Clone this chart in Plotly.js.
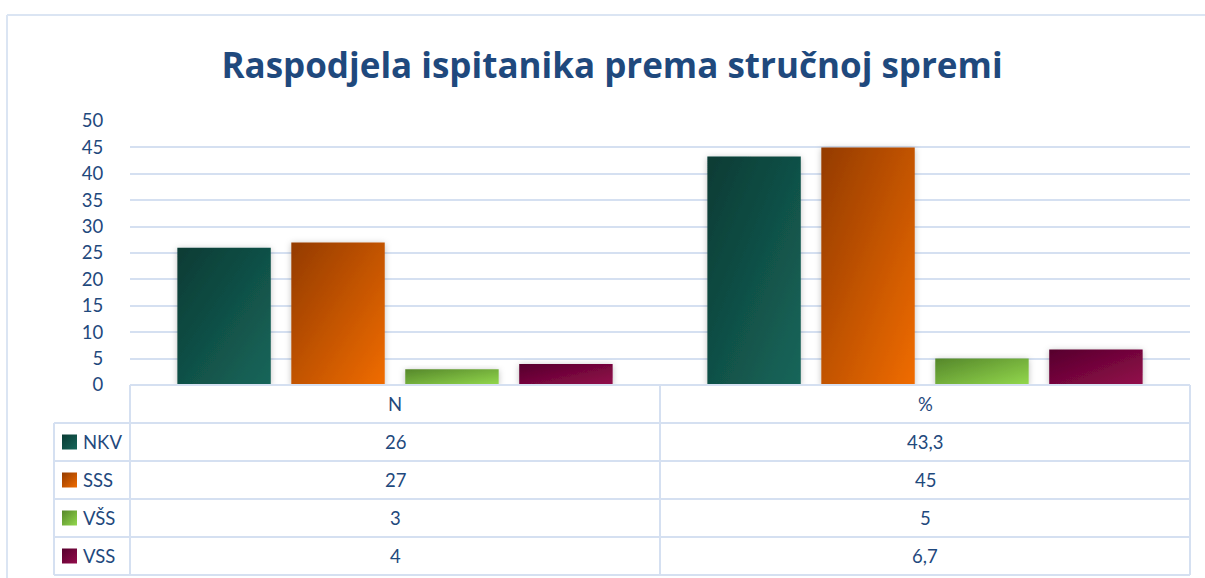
<!DOCTYPE html>
<html><head><meta charset="utf-8">
<script src="https://cdn.plot.ly/plotly-3.0.1.min.js"></script>
<style>html,body{margin:0;padding:0;background:#fff;overflow:hidden}#chart{width:1205px;height:578px}</style>
</head><body><div id="chart"></div>
<script>
const categories = ['N', '%'];
const seriesNames = ['NKV', 'SSS', 'VŠS', 'VSS'];
const valuesNKV = [26, 43.3];
const valuesSSS = [27, 45];
const valuesVSSh = [3, 5];
const valuesVSS = [4, 6.7];
const seriesValues = [valuesNKV, valuesSSS, valuesVSSh, valuesVSS];
const chartTitle = 'Raspodjela ispitanika prema stručnoj spremi';

const gradStart = ['#0a3b34', '#943b00', '#55872a', '#56002d'];
const gradEnd = ['#17665a', '#f06c00', '#93d84d', '#930c4b'];
const midColors = ['#115247', '#c85400', '#74b03b', '#750640'];
const textColor = '#1F497D';
const lineColor = '#d5e0f1';
const FONT = 'Lato, "Open Sans", sans-serif';
const TITLE_FONT = '"Open Sans", Lato, sans-serif';

const W = 1205, H = 578, L = 130, R = 1190, T = 121, B = 385;
const px = v => (v - L) / (R - L);
const py = v => (B - v) / (B - T);

const rowEdges = [385, 423, 461, 499, 537, 575];
const rowCenter = i => (rowEdges[i] + rowEdges[i + 1]) / 2;

const traces = seriesNames.map((name, i) => ({
  type: 'bar', name: name, x: categories, y: seriesValues[i],
  marker: {color: midColors[i], line: {width: 0}},
  hoverinfo: 'none'
}));

const shapes = [];
const annotations = [];
const lineStyle = {color: lineColor, width: 2};
shapes.push({type: 'line', xref: 'paper', yref: 'paper', x0: px(7), x1: px(7), y0: py(H + 5), y1: py(15), line: {color: '#dbe5f3', width: 2}});
shapes.push({type: 'line', xref: 'paper', yref: 'paper', x0: px(7), x1: px(W + 5), y0: py(15), y1: py(15), line: {color: '#dbe5f3', width: 2}});
rowEdges.forEach((e, k) => {
  shapes.push({type: 'line', xref: 'paper', yref: 'paper', x0: px(k === 0 ? L : 54), x1: px(R), y0: py(e), y1: py(e), line: lineStyle});
});
[L, (L + R) / 2, R].forEach(v => {
  shapes.push({type: 'line', xref: 'paper', yref: 'paper', x0: px(v), x1: px(v), y0: py(rowEdges[0]), y1: py(rowEdges[5]), line: lineStyle});
});
shapes.push({type: 'line', xref: 'paper', yref: 'paper', x0: px(54), x1: px(54), y0: py(rowEdges[1]), y1: py(rowEdges[5]), line: lineStyle});
const legendShapeIdx = [];
seriesNames.forEach((n, i) => {
  const c = rowCenter(i + 1);
  legendShapeIdx.push(shapes.length);
  shapes.push({type: 'rect', xref: 'paper', yref: 'paper', x0: px(62), x1: px(77), y0: py(c + 7.5), y1: py(c - 7.5), fillcolor: midColors[i], line: {width: 0}});
  annotations.push({xref: 'paper', yref: 'paper', x: px(81), y: py(c), xanchor: 'left', yanchor: 'middle', text: n, showarrow: false, font: {family: FONT, size: 18.5, color: textColor}});
  categories.forEach((cat, j) => {
    annotations.push({xref: 'x', yref: 'paper', x: cat, y: py(c), xanchor: 'center', yanchor: 'middle', text: String(seriesValues[i][j]).replace('.', ','), showarrow: false, font: {family: FONT, size: 18.5, color: textColor}});
  });
});
categories.forEach(cat => {
  annotations.push({xref: 'x', yref: 'paper', x: cat, y: py(rowCenter(0)), xanchor: 'center', yanchor: 'middle', text: cat, showarrow: false, font: {family: FONT, size: 18.5, color: textColor}});
});

const layout = {
  width: W, height: H,
  margin: {l: L, r: W - R, t: T, b: H - B, pad: 0},
  paper_bgcolor: '#ffffff', plot_bgcolor: '#ffffff',
  title: {text: '<b>' + chartTitle + '</b>', x: 612 / W, xanchor: 'center', y: 1 - 66 / H, yanchor: 'middle', yref: 'container', font: {family: TITLE_FONT, size: 35, color: textColor}},
  showlegend: false,
  barmode: 'group', bargap: 0.14, bargroupgap: 0.18,
  xaxis: {type: 'category', showticklabels: false, showgrid: false, zeroline: false, showline: false, ticks: '', range: [-0.5, 1.5], fixedrange: true},
  yaxis: {range: [0, 50], dtick: 5, tick0: 0, showgrid: true, gridcolor: lineColor, gridwidth: 2, zeroline: false, showline: false,
    ticks: 'outside', ticklen: 22, tickcolor: 'rgba(0,0,0,0)', tickfont: {family: FONT, size: 18.5, color: textColor}, fixedrange: true},
  shapes: shapes, annotations: annotations
};

const gd = document.getElementById('chart');
Plotly.newPlot(gd, traces, layout, {staticPlot: true, displayModeBar: false}).then(() => {
  const NS = 'http://www.w3.org/2000/svg';
  const svg = gd.querySelector('svg.main-svg');
  let defs = svg.querySelector('defs');
  if (!defs) { defs = document.createElementNS(NS, 'defs'); svg.insertBefore(defs, svg.firstChild); }
  seriesNames.forEach((n, i) => {
    const g = document.createElementNS(NS, 'linearGradient');
    g.setAttribute('id', 'barGrad' + i);
    g.setAttribute('x1', '0'); g.setAttribute('y1', '0'); g.setAttribute('x2', '1'); g.setAttribute('y2', '1');
    [[0, gradStart[i]], [1, gradEnd[i]]].forEach(([o, c]) => {
      const s = document.createElementNS(NS, 'stop');
      s.setAttribute('offset', o); s.setAttribute('stop-color', c);
      g.appendChild(s);
    });
    defs.appendChild(g);
  });
  const f = document.createElementNS(NS, 'filter');
  f.setAttribute('id', 'barShadow');
  f.setAttribute('x', '-20%'); f.setAttribute('y', '-20%'); f.setAttribute('width', '140%'); f.setAttribute('height', '140%');
  const ds = document.createElementNS(NS, 'feDropShadow');
  ds.setAttribute('dx', '0'); ds.setAttribute('dy', '1'); ds.setAttribute('stdDeviation', '3');
  ds.setAttribute('flood-color', '#000'); ds.setAttribute('flood-opacity', '0.25');
  f.appendChild(ds); defs.appendChild(f);

  gd.querySelectorAll('.barlayer .trace').forEach((tr, i) => {
    tr.querySelectorAll('path').forEach(p => {
      p.style.fill = 'url(#barGrad' + i + ')';
      p.setAttribute('filter', 'url(#barShadow)');
    });
  });
  legendShapeIdx.forEach((idx, i) => {
    gd.querySelectorAll('.shapelayer path[data-index="' + idx + '"]').forEach(p => {
      p.style.fill = 'url(#barGrad' + i + ')';
    });
  });
});
</script></body></html>
